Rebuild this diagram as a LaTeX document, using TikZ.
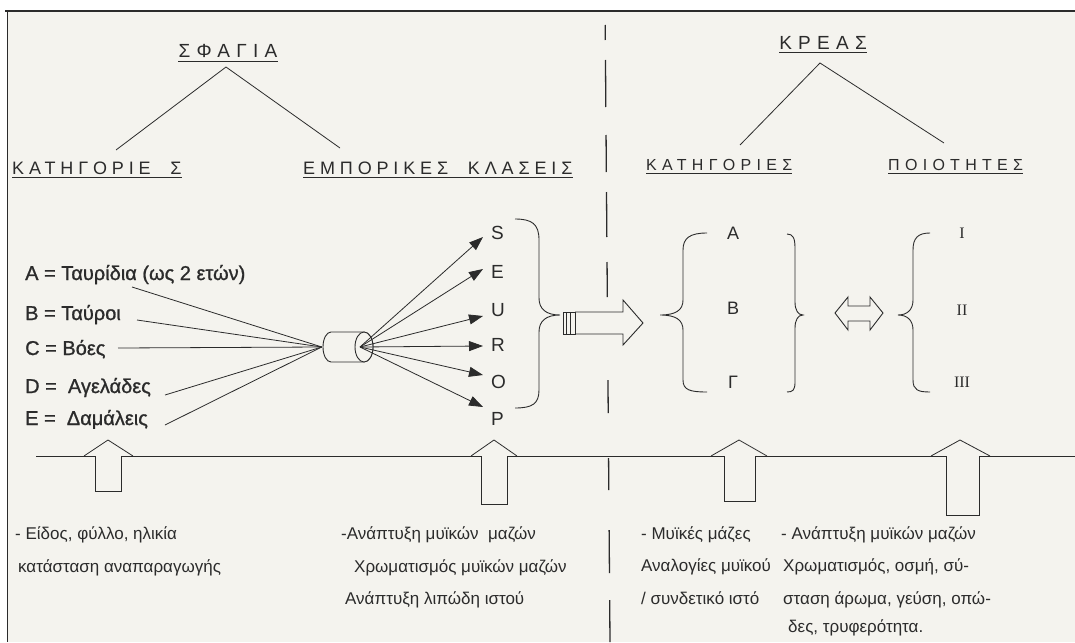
\documentclass[tikz,border=0pt]{standalone}
\usepackage{fontspec}
\setmainfont{Liberation Sans}
\newfontfamily\hdrfont[LetterSpace=27]{Liberation Sans}
\newfontfamily\hdrfontR[LetterSpace=33]{Liberation Sans}
\newfontfamily\itemfont[FakeBold=1]{Liberation Sans}
\newfontfamily\romfont{Liberation Serif}
\usetikzlibrary{arrows.meta}
\definecolor{paper}{HTML}{F4F3EE}
\definecolor{ink}{HTML}{2B2B2B}
\tikzset{
  lbl/.style={inner sep=0pt, text=ink},
  hdrL/.style={lbl, font=\hdrfont\fontsize{18}{18}\selectfont},
  hdrR/.style={lbl, font=\hdrfontR\fontsize{16}{16}\selectfont},
  bighdr/.style={lbl, font=\hdrfontR\fontsize{19}{19}\selectfont},
  item/.style={lbl, font=\itemfont\fontsize{20}{20}\selectfont},
  letter/.style={lbl, font=\fontsize{19}{19}\selectfont},
  cat/.style={lbl, font=\fontsize{18}{18}\selectfont},
  roman/.style={lbl, font=\romfont\fontsize{16}{16}\selectfont},
  note/.style={lbl, font=\fontsize{17}{17}\selectfont},
  ln/.style={draw=ink, line width=0.8pt},
  ul/.style={draw=ink, line width=0.9pt},
  arr/.style={ln, -{Triangle[length=14pt,width=10pt]}},
  hollow/.style={draw=ink, line width=0.9pt, fill=paper, line join=miter},
  brace/.style={draw=ink, line width=0.9pt},
  divseg/.style={draw=ink, line width=1.3pt}
}
\begin{document}
\begin{tikzpicture}[x=1pt,y=-1pt]
\useasboundingbox (0,0) rectangle (1075,642);
\fill[white] (0,0) rectangle (1075,642);
\fill[paper] (7,11) rectangle (1075,642);
\draw[ink, line width=1.6pt] (5,11) -- (1075,11);
\draw[ink, line width=1pt] (7,11) -- (7,642);

% dashed divider
\foreach \a/\b in {25/40,60/107,135/172,192/237,262/297,380/413,458/490,530/573,600/642}
  \draw[divseg] ({605+5*\a/642},\a) -- ({605+5*\b/642},\b);

% headers
\node[bighdr, anchor=base] (sfagia) at (228,58) {ΣΦΑΓΙΑ};
\node[hdrL, anchor=base west] (katL) at (12,174) {ΚΑΤΗΓΟΡΙΕ\ \ Σ};
\node[hdrL, anchor=base west] (empor) at (303,174) {ΕΜΠΟΡΙΚΕΣ\ \ ΚΛΑΣΕΙΣ};
\node[bighdr, anchor=base] (kreas) at (823,49) {ΚΡΕΑΣ};
\node[hdrR, anchor=base west] (katR) at (646,170) {ΚΑΤΗΓΟΡΙΕΣ};
\node[hdrR, anchor=base west] (poiot) at (888,170) {ΠΟΙΟΤΗΤΕΣ};
\foreach \n in {sfagia,katL,empor,kreas,katR,poiot}
  \draw[ul] ([yshift=-3.5pt]\n.base west) -- ([yshift=-3.5pt]\n.base east);

% tree connectors
\coordinate (sfTop) at (226,67);
\coordinate (sfL) at (116,150);
\coordinate (sfR) at (340,148);
\coordinate (krTop) at (820,63);
\coordinate (krL) at (740,145);
\coordinate (krR) at (944,143);
\draw[ln] (sfL) -- (sfTop) -- (sfR);
\draw[ln] (krL) -- (krTop) -- (krR);

% categories of carcasses
\node[item, anchor=base west] (iA) at (25,280) {A = Ταυρίδια (ως 2 ετών)};
\node[item, anchor=base west] (iB) at (25,320) {B = Ταύροι};
\node[item, anchor=base west] (iC) at (25,355) {C = Βόες};
\node[item, anchor=base west] (iD) at (25,393) {D = \ Αγελάδες};
\node[item, anchor=base west] (iE) at (25,425) {E = \ Δαμάλεις};
\coordinate (sA) at (132,287);
\coordinate (sB) at (137,320);
\coordinate (sC) at (118,348);
\coordinate (sD) at (165,395);
\coordinate (sE) at (165,425);

% cylinder (classification device)
\node[inner sep=0pt, minimum width=50pt, minimum height=30pt] (cyl) at (347,347) {};
\foreach \s in {sA,sB,sC,sD,sE} \draw[ln] (\s) -- (cyl.west);
\filldraw[hollow] (364,332) -- (331,332) arc[start angle=90, end angle=270, x radius=8pt, y radius=15pt] -- (364,362) arc[start angle=-90, end angle=90, x radius=9pt, y radius=15pt];
\draw[hollow] (364,347) ellipse[x radius=9pt, y radius=15pt];
\coordinate (hub) at (360,347);

% SEUROP classes
\node[letter, anchor=west] (S) at (491,233) {S};
\node[letter, anchor=west] (E) at (491,272) {E};
\node[letter, anchor=west] (U) at (491,310) {U};
\node[letter, anchor=west] (R) at (491,345) {R};
\node[letter, anchor=west] (O) at (491,382) {O};
\node[letter, anchor=west] (P) at (491,419) {P};
\coordinate (tS) at (483,237);
\coordinate (tE) at (483,269);
\coordinate (tU) at (483,316);
\coordinate (tR) at (483,346);
\coordinate (tO) at (483,375);
\coordinate (tP) at (483,407);
\foreach \t in {tS,tE,tU,tR,tO,tP} \draw[arr] (hub) -- (\t);

% brace around SEUROP
\draw[brace] (515,219) .. controls (532,219) and (539,224) .. (539,240) -- (539,298)
  .. controls (539,309) and (546,315) .. (560,315)
  .. controls (546,315) and (539,321) .. (539,332) -- (539,390)
  .. controls (539,404) and (532,408) .. (515,408);

% big hollow arrow
\coordinate (bigTail) at (563,323);
\coordinate (bigTip) at (643,323);
\draw[hollow] (575,312) -- (623,312) -- (623,300) -- (bigTip) -- (623,345) -- (623,334) -- (575,334);
\draw[hollow] (563,312) rectangle (575,334);
\draw[ink, line width=1.2pt] (566.5,312) -- (566.5,334);
\draw[ink, line width=0.8pt] (570,312) -- (570,334);

% meat categories
\draw[brace] (707,233) .. controls (690,233) and (683,238) .. (683,250) -- (683,300)
  .. controls (683,310) and (676,315) .. (660,315)
  .. controls (676,315) and (683,320) .. (683,330) -- (683,380)
  .. controls (683,390) and (690,392) .. (707,392);
\node[cat] (cA) at (733,233) {A};
\node[cat] (cB) at (733,308) {B};
\node[cat] (cG) at (733,382) {Γ};
\draw[brace] (787,234) .. controls (793,234) and (795,238) .. (795,248) -- (795,302)
  .. controls (795,310) and (798,315) .. (803,315)
  .. controls (798,315) and (795,320) .. (795,328) -- (795,382)
  .. controls (795,390) and (793,392) .. (787,392);

% double arrow
\draw[hollow] (835,313) -- (848,297) -- (848,306) -- (870,306) -- (870,297) -- (883,313)
  -- (870,330) -- (870,321) -- (848,321) -- (848,330) -- cycle;

% qualities
\draw[brace] (930,233) .. controls (918,233) and (913,238) .. (913,250) -- (913,300)
  .. controls (913,310) and (907,315) .. (898,315)
  .. controls (907,315) and (913,320) .. (913,330) -- (913,380)
  .. controls (913,390) and (918,392) .. (930,392);
\node[roman] (q1) at (962,233) {I};
\node[roman] (q2) at (962,310) {II};
\node[roman] (q3) at (962,382) {III};

% baseline with up arrows
\draw[ln] (36,456) -- (95,456) -- (95,491) -- (121,491) -- (121,456)
  -- (481,456) -- (481,504) -- (507,504) -- (507,456)
  -- (724,456) -- (724,501) -- (755,501) -- (755,456)
  -- (946,456) -- (946,515) -- (979,515) -- (979,456) -- (1075,456);
\draw[ln] (84,456) -- (108,440) -- (133,456);
\draw[ln] (471,456) -- (494,440) -- (517,456);
\draw[ln] (711,456) -- (739,440) -- (767,456);
\draw[ln] (931,456) -- (960,440) -- (990,456);

% notes
\node[note, anchor=base west] (n1a) at (15,539) {- Είδος, φύλλο, ηλικία};
\node[note, anchor=base west] (n1b) at (18,572) {κατάσταση αναπαραγωγής};
\node[note, anchor=base west] (n2a) at (341,539) {-Ανάπτυξη μυϊκών\ \ μαζών};
\node[note, anchor=base west] (n2b) at (354,572) {Χρωματισμός μυϊκών μαζών};
\node[note, anchor=base west] (n2c) at (345,604) {Ανάπτυξη λιπώδη ιστού};
\node[note, anchor=base west] (n3a) at (641,539) {- Μυϊκές μάζες};
\node[note, anchor=base west] (n3b) at (641,571) {Αναλογίες μυϊκού};
\node[note, anchor=base west] (n3c) at (641,604) {/ συνδετικό ιστό};
\node[note, anchor=base west] (n4a) at (781,539) {- Ανάπτυξη μυϊκών μαζών};
\node[note, anchor=base west] (n4b) at (783,571) {Χρωματισμός, οσμή, σύ-};
\node[note, anchor=base west] (n4c) at (783,604) {σταση άρωμα, γεύση, οπώ-};
\node[note, anchor=base west] (n4d) at (788,632) {δες, τρυφερότητα.};
\end{tikzpicture}
\end{document}
